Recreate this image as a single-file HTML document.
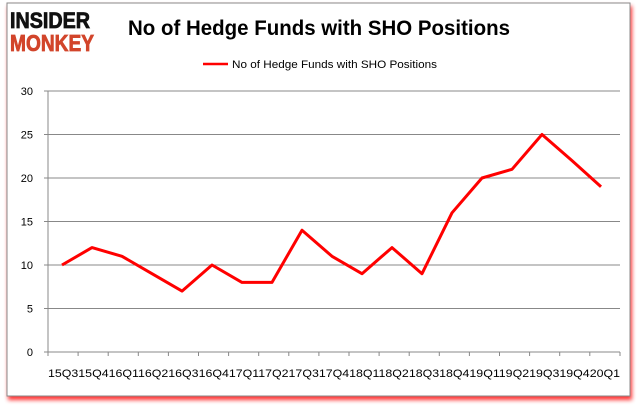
<!DOCTYPE html>
<html><head><style>
body{margin:0;width:637px;height:408px;background:#fff;overflow:hidden;font-family:"Liberation Sans",sans-serif;}
</style></head><body>
<svg width="637" height="408" xmlns="http://www.w3.org/2000/svg">
<defs><filter id="b"><feGaussianBlur stdDeviation="2"/></filter></defs>
<rect x="8" y="6" width="624" height="394" fill="#f00" opacity="0.8" filter="url(#b)"/>
<rect x="7" y="3" width="623" height="393" fill="#fff" stroke="#888" stroke-width="1"/>
<text x="10" y="28" font-size="22" font-weight="bold" fill="#111" stroke="#111" stroke-width="0.8" textLength="80" lengthAdjust="spacingAndGlyphs">INSIDER</text>
<text x="10" y="51" font-size="23" font-weight="bold" fill="#d2452b" stroke="#d2452b" stroke-width="0.8" textLength="84" lengthAdjust="spacingAndGlyphs">MONKEY</text>
<text x="128" y="35" font-size="21" font-weight="bold" fill="#000" textLength="382" lengthAdjust="spacingAndGlyphs">No of Hedge Funds with SHO Positions</text>
<line x1="203" y1="64" x2="228" y2="64" stroke="#f00" stroke-width="2.5"/>
<text x="232" y="68" font-size="11" fill="#000" textLength="205" lengthAdjust="spacingAndGlyphs">No of Hedge Funds with SHO Positions</text>
<g stroke="#888" stroke-width="1">
<line x1="48" y1="91" x2="620" y2="91"/><line x1="48" y1="134.5" x2="620" y2="134.5"/>
<line x1="48" y1="178" x2="620" y2="178"/><line x1="48" y1="221.5" x2="620" y2="221.5"/>
<line x1="48" y1="265" x2="620" y2="265"/><line x1="48" y1="308.5" x2="620" y2="308.5"/>
<line x1="48" y1="352" x2="620" y2="352"/><line x1="48" y1="91" x2="48" y2="352"/>
<line x1="44" y1="91" x2="48" y2="91"/><line x1="44" y1="134.5" x2="48" y2="134.5"/><line x1="44" y1="178" x2="48" y2="178"/><line x1="44" y1="221.5" x2="48" y2="221.5"/><line x1="44" y1="265" x2="48" y2="265"/><line x1="44" y1="308.5" x2="48" y2="308.5"/><line x1="44" y1="352" x2="48" y2="352"/>
</g>
<g font-size="11" fill="#000" text-anchor="end">
<text x="33" y="95">30</text><text x="33" y="138.5">25</text><text x="33" y="182">20</text><text x="33" y="225.5">15</text><text x="33" y="269">10</text><text x="33" y="312.5">5</text><text x="33" y="356">0</text>
</g>
<text x="48" y="377" font-size="11" fill="#000" textLength="572" lengthAdjust="spacingAndGlyphs">15Q315Q416Q116Q216Q316Q417Q117Q217Q317Q418Q118Q218Q318Q419Q119Q219Q319Q420Q1</text>
<polyline fill="none" stroke="#f00" stroke-width="3" stroke-linejoin="round" points="62,265 92,247.6 122,256.3 152,273.7 182,291.1 212,265 242,282.4 272,282.4 302,230.2 332,256.3 362,273.7 392,247.6 422,273.7 452,212.8 482,178 512,169.3 542,134.5 572,160.6 601,186.7"/>
<g stroke="#888">
<line x1="48" y1="352" x2="48" y2="356"/><line x1="78.1" y1="352" x2="78.1" y2="356"/><line x1="108.2" y1="352" x2="108.2" y2="356"/><line x1="138.3" y1="352" x2="138.3" y2="356"/><line x1="168.4" y1="352" x2="168.4" y2="356"/><line x1="198.5" y1="352" x2="198.5" y2="356"/><line x1="228.6" y1="352" x2="228.6" y2="356"/><line x1="258.7" y1="352" x2="258.7" y2="356"/><line x1="288.8" y1="352" x2="288.8" y2="356"/><line x1="318.9" y1="352" x2="318.9" y2="356"/><line x1="349" y1="352" x2="349" y2="356"/><line x1="379.1" y1="352" x2="379.1" y2="356"/><line x1="409.2" y1="352" x2="409.2" y2="356"/><line x1="439.3" y1="352" x2="439.3" y2="356"/><line x1="469.4" y1="352" x2="469.4" y2="356"/><line x1="499.5" y1="352" x2="499.5" y2="356"/><line x1="529.6" y1="352" x2="529.6" y2="356"/><line x1="559.7" y1="352" x2="559.7" y2="356"/><line x1="589.8" y1="352" x2="589.8" y2="356"/><line x1="620" y1="352" x2="620" y2="356"/>
</g>
</svg>
</body></html>
